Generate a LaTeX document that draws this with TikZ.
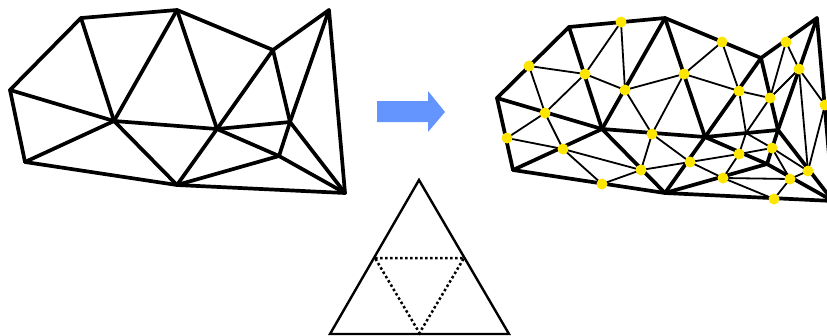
\documentclass[tikz,border=0pt]{standalone}
\usetikzlibrary{backgrounds}
\definecolor{dotyellow}{HTML}{FFE600}
\definecolor{arrowblue}{HTML}{6495FF}
\tikzset{
  thick edge/.style={line width=3.7pt,line cap=round,black},
  thin edge/.style={line width=1.8pt,line cap=round,black},
  tri edge/.style={line width=2.4pt,black},
  dot edge/.style={line width=2.5pt,black,dash pattern=on 2.5pt off 2.5pt},
  midpt/.style={circle,fill=dotyellow,draw=none,inner sep=0pt,minimum size=11pt},
  bigarrow/.style={fill=arrowblue,draw=none}
}
\begin{document}
\begin{tikzpicture}[x=1pt,y=-1pt]
\useasboundingbox (0,0) rectangle (827,335);
% left mesh
\coordinate (A) at (10,90);
\coordinate (B) at (81,18);
\coordinate (C) at (177,10);
\coordinate (D) at (273,50);
\coordinate (E) at (329,10);
\coordinate (F) at (345,193);
\coordinate (G) at (177,185);
\coordinate (H) at (25,162);
\coordinate (I) at (114,121);
\coordinate (J) at (217,129);
\coordinate (K) at (290,122);
\coordinate (L) at (279,156);
\foreach \p/\q in {A/B,B/C,C/D,D/E,E/F,F/G,G/H,H/A,B/I,C/I,C/J,D/J,D/K,E/K,A/I,H/I,I/G,I/J,J/K,J/G,J/L,K/L,L/G,L/F,K/F}
  \draw[thick edge] (\p) -- (\q);
% right mesh, coarse vertices
\coordinate (a) at (497,98);
\coordinate (b) at (569,27);
\coordinate (c) at (665,18);
\coordinate (d) at (761,58);
\coordinate (e) at (817,18);
\coordinate (f) at (833,201);
\coordinate (g) at (665,193);
\coordinate (h) at (513,170);
\coordinate (i) at (602,129);
\coordinate (j) at (705,137);
\coordinate (k) at (778,130);
\coordinate (l) at (767,164);
% refinement points
\coordinate (mjk) at (746,133);
\node[midpt] (mab) at (529,66) {};
\node[midpt] (mbc) at (621,22) {};
\node[midpt] (mcd) at (722,42) {};
\node[midpt] (mde) at (786,42) {};
\node[midpt] (mef) at (825,105) {};
\node[midpt] (mai) at (545,113) {};
\node[midpt] (mbi) at (585,74) {};
\node[midpt] (mci) at (625,90) {};
\node[midpt] (mcj) at (684,74) {};
\node[midpt] (mdj) at (739,91) {};
\node[midpt] (mdk) at (770,98) {};
\node[midpt] (mek) at (799,69) {};
\node[midpt] (mah) at (507,138) {};
\node[midpt] (mhi) at (563,149) {};
\node[midpt] (mhg) at (602,184) {};
\node[midpt] (mig) at (641,170) {};
\node[midpt] (mij) at (652,134) {};
\node[midpt] (mjg) at (690,162) {};
\node[midpt] (mjl) at (739,154) {};
\node[midpt] (mkl) at (772,148) {};
\node[midpt] (mlg) at (723,178) {};
\node[midpt] (mlf) at (790,179) {};
\node[midpt] (mkf) at (808,171) {};
\node[midpt] (mgf) at (774,199) {};
\begin{pgfonlayer}{background}
\foreach \p/\q in {a/b,b/c,c/d,d/e,e/f,f/g,g/h,h/a,b/i,c/i,c/j,d/j,d/k,e/k,a/i,h/i,i/g,i/j,j/k,j/g,j/l,k/l,l/g,l/f,k/f}
  \draw[thick edge] (\p) -- (\q);
\foreach \p/\q in {mab/mbi,mab/mai,mbi/mai,mbi/mbc,mbi/mci,mbc/mci,mci/mcj,mci/mij,mcj/mij,mcj/mcd,mcj/mdj,mcd/mdj,mdj/mdk,mdk/mde,mdk/mek,mde/mek,mek/mef,mek/mkf,mef/mkf,mah/mai,mah/mhi,mai/mhi,mhi/mhg,mhi/mig,mhg/mig,mij/mig,mij/mjg,mig/mjg,mjg/mjl,mjg/mlg,mjl/mlg,mjl/mkl,mkl/mkf,mkl/mlf,mlf/mkf,mlg/mlf,mlg/mgf,mlf/mgf}
  \draw[thin edge] (\p.center) -- (\q.center);
\foreach \p in {mdj,mdk,mjl,mkl}
  \draw[thin edge] (\p.center) -- (mjk);
\end{pgfonlayer}
% arrow
\fill[bigarrow] (377,101) -- (428,101) -- (428,91) -- (445,112) -- (428,132) -- (428,122) -- (377,122) -- cycle;
% triangle
\coordinate (t1) at (419,180);
\coordinate (t2) at (330,334);
\coordinate (t3) at (509,334);
\coordinate (t4) at (375,258);
\coordinate (t5) at (464,258);
\coordinate (t6) at (419.5,333);
\draw[tri edge,line join=miter] (t1) -- (t3) -- (t2) -- cycle;
\draw[dot edge] (t4) -- (t5) -- (t6) -- cycle;
\end{tikzpicture}
\end{document}
